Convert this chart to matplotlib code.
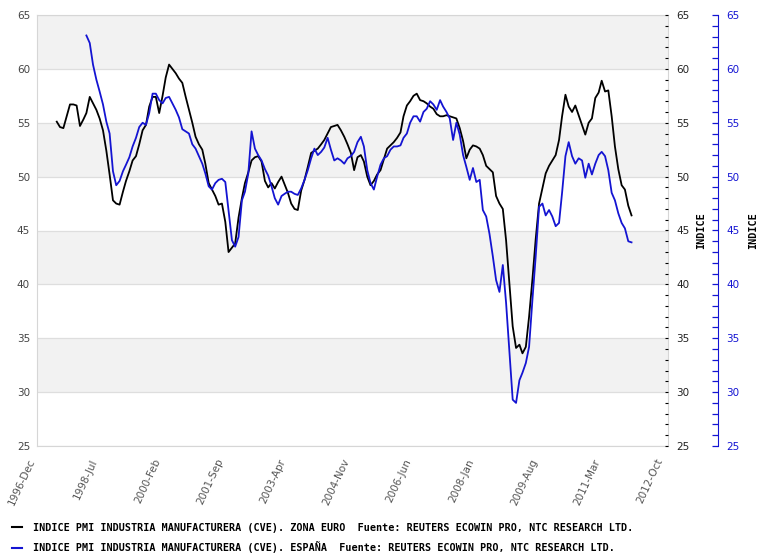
import matplotlib
matplotlib.use('Agg')
import matplotlib.pyplot as plt
import matplotlib.dates as mdates
from matplotlib.ticker import MultipleLocator
from matplotlib.font_manager import FontProperties
import pandas as pd

# ---------------- datos (mensuales) ----------------
euro_inicio = '1997-06-01'
euro = [55.1, 54.6, 54.5, 55.6, 56.7, 56.7, 56.6, 54.7, 55.3, 55.9,
        57.4, 56.8, 56.2, 55.4, 54.3, 52.4, 50.2, 47.8, 47.5, 47.4,
        48.6, 49.6, 50.5, 51.5, 51.9, 53.0, 54.3, 54.8, 56.5, 57.4,
        57.4, 55.9, 57.5, 59.2, 60.4, 60.0, 59.6, 59.1, 58.7, 57.4,
        56.2, 55.0, 53.7, 53.0, 52.5, 51.2, 49.4, 48.8, 48.2, 47.4,
        47.5, 45.8, 43.0, 43.4, 43.8, 46.2, 48.0, 49.4, 50.4, 51.5,
        51.8, 51.9, 51.4, 49.6, 49.0, 49.4, 48.9, 49.5, 50.0, 49.3,
        48.5, 47.5, 47.0, 46.9, 48.7, 49.7, 50.9, 52.2, 52.4, 52.6,
        53.0, 53.4, 54.0, 54.6, 54.7, 54.8, 54.3, 53.7, 53.0, 52.2,
        50.6, 51.8, 52.0, 51.4, 50.0, 49.2, 49.6, 50.2, 50.6, 51.6,
        52.6, 52.9, 53.2, 53.6, 54.1, 55.6, 56.6, 57.0, 57.5, 57.7,
        57.1, 57.0, 56.8, 56.5, 56.3, 55.8, 55.6, 55.6, 55.7, 55.6,
        55.5, 55.4, 54.5, 53.3, 51.7, 52.5, 52.9, 52.8, 52.6, 52.0,
        51.0, 50.7, 50.4, 48.2, 47.5, 47.0, 44.1, 40.1, 36.1, 34.1,
        34.4, 33.6, 34.2, 37.0, 40.5, 44.2, 47.5, 48.9, 50.3, 51.0,
        51.5, 52.0, 53.4, 55.6, 57.6, 56.5, 56.0, 56.6, 55.7, 54.8,
        53.9, 55.0, 55.4, 57.3, 57.8, 58.9, 57.9, 58.0, 55.6, 52.8,
        50.7, 49.2, 48.8, 47.3, 46.4]

espana_inicio = '1998-03-01'
espana = [63.1, 62.4, 60.4, 59.0, 57.9, 56.7, 55.1, 54.0, 50.5, 49.2,
          49.6, 50.5, 51.1, 51.8, 52.8, 53.6, 54.6, 55.0, 54.8, 55.9,
          57.7, 57.7, 57.1, 56.8, 57.3, 57.4, 56.8, 56.2, 55.5, 54.4,
          54.2, 54.0, 53.0, 52.6, 51.9, 51.2, 50.3, 49.1, 48.8, 49.4,
          49.7, 49.8, 49.5, 46.8, 44.1, 43.5, 44.4, 47.8, 48.6, 50.3,
          54.2, 52.6, 52.0, 51.5, 50.7, 50.1, 49.1, 48.0, 47.4, 48.2,
          48.4, 48.6, 48.6, 48.4, 48.3, 48.9, 49.7, 50.6, 51.7, 52.6,
          52.0, 52.3, 52.7, 53.6, 52.5, 51.5, 51.7, 51.5, 51.2, 51.7,
          51.9, 52.3, 53.2, 53.7, 52.8, 50.6, 49.4, 48.8, 50.0, 51.1,
          51.7, 51.9, 52.5, 52.8, 52.8, 52.9, 53.6, 54.0, 55.0, 55.6,
          55.6, 55.1, 56.0, 56.3, 57.0, 56.7, 56.2, 57.1, 56.5, 56.0,
          55.4, 53.4, 55.0, 53.9, 52.0, 50.9, 49.7, 50.8, 49.5, 49.7,
          46.9, 46.3, 44.7, 42.6, 40.4, 39.3, 41.8, 38.3, 33.8, 29.3,
          29.0, 31.1, 31.8, 32.7, 34.2, 38.6, 42.6, 47.2, 47.5, 46.4,
          46.9, 46.3, 45.4, 45.7, 48.5, 51.9, 53.2, 51.9, 51.2, 51.7,
          51.5, 49.9, 51.2, 50.2, 51.2, 52.0, 52.3, 51.9, 50.6, 48.5,
          47.8, 46.6, 45.7, 45.2, 44.0, 43.9]

etiqueta_euro = ("INDICE PMI INDUSTRIA MANUFACTURERA (CVE). ZONA EURO  "
                 "Fuente: REUTERS ECOWIN PRO, NTC RESEARCH LTD.")
etiqueta_espana = ("INDICE PMI INDUSTRIA MANUFACTURERA (CVE). ESPAÑA  "
                   "Fuente: REUTERS ECOWIN PRO, NTC RESEARCH LTD.")

fechas_euro = pd.date_range(euro_inicio, periods=len(euro), freq='MS')
fechas_espana = pd.date_range(espana_inicio, periods=len(espana), freq='MS')
ticks_x = pd.date_range('1996-12-01', periods=11, freq='19MS')

AZUL = '#1414d2'
fuente_mono = FontProperties(family='DejaVu Sans Mono', weight='bold', size=7.3)

# ---------------- figura ----------------
fig = plt.figure(figsize=(7.62, 5.57), dpi=100)
ax = fig.add_axes([37 / 762, 1 - 446 / 557, 631 / 762, 431 / 557])

# bandas grises alternas y lineas de rejilla
for lo in range(30, 65, 10):
    ax.axhspan(lo, lo + 5, color='#f2f2f2', zorder=0, lw=0)
for y in range(25, 66, 5):
    ax.axhline(y, color='#dedede', lw=0.9, zorder=1)

ax.plot(fechas_euro, euro, color='black', lw=1.3, zorder=3)

ax.set_ylim(25, 65)
ax.set_xlim(pd.Timestamp('1996-12-01'), pd.Timestamp('2012-11-01'))
ax.yaxis.set_major_locator(MultipleLocator(5))
ax.tick_params(axis='y', length=0, pad=5, labelsize=7.5, labelcolor='#444444')
for s in ax.spines.values():
    s.set_color('#d6d6d6')

ax.set_xticks(ticks_x)
ax.xaxis.set_major_formatter(mdates.DateFormatter('%Y-%b'))
ax.tick_params(axis='x', length=0, pad=8, labelsize=7.5, labelcolor='#555555')
for t in ax.get_xticklabels():
    t.set_rotation(65)
    t.set_ha('right')
    t.set_va('top')

# eje derecho negro
ax_r = ax.twinx()
ax_r.set_ylim(25, 65)
ax_r.yaxis.set_major_locator(MultipleLocator(5))
ax_r.yaxis.set_minor_locator(MultipleLocator(1))
ax_r.tick_params(axis='y', which='both', direction='in', length=2.5, width=0.8,
                 color='black', pad=6, labelsize=7.5, labelcolor='#222222')
for s in ['left', 'right', 'top', 'bottom']:
    ax_r.spines[s].set_visible(False)
ax_r.set_ylabel('INDICE', fontproperties=fuente_mono, labelpad=5)

# eje derecho azul (Espana)
ax_b = ax.twinx()
ax_b.spines['right'].set_position(('outward', 36))
ax_b.spines['right'].set_color(AZUL)
for s in ['left', 'top', 'bottom']:
    ax_b.spines[s].set_visible(False)
ax_b.plot(fechas_espana, espana, color=AZUL, lw=1.3, zorder=3)
ax_b.set_ylim(25, 65)
ax_b.yaxis.set_major_locator(MultipleLocator(5))
ax_b.yaxis.set_minor_locator(MultipleLocator(1))
ax_b.tick_params(axis='y', which='both', direction='in', length=4, width=0.9,
                 color=AZUL, pad=6, labelsize=7.5, labelcolor=AZUL)
ax_b.set_ylabel('INDICE', fontproperties=fuente_mono, labelpad=6)

# leyenda inferior
h1, = ax.plot([], [], color='black', lw=1.5)
h2, = ax.plot([], [], color=AZUL, lw=1.5)
fig.legend([h1, h2], [etiqueta_euro, etiqueta_espana], loc='upper left',
           bbox_to_anchor=(12 / 762, 1 - 523 / 557), frameon=False,
           prop=fuente_mono, handlelength=1.0, handletextpad=1.1,
           borderpad=0, borderaxespad=0, labelspacing=0.8)

fig.savefig('out.png', dpi=100)
